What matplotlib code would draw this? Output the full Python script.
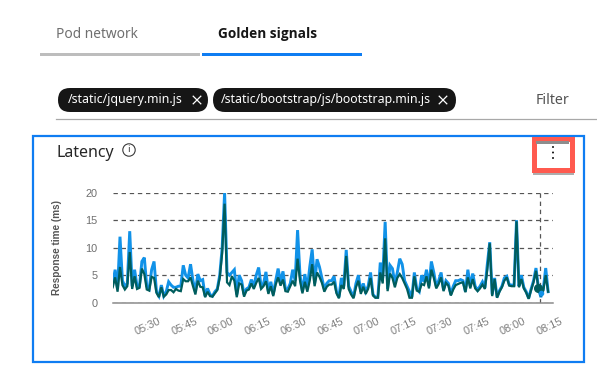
#!/usr/bin/env python3
"""
Latency panel: golden signals tab with two response time series
"""

import matplotlib
matplotlib.use("Agg")
import matplotlib.pyplot as plt
from matplotlib.patches import Circle, FancyBboxPatch, Rectangle
from matplotlib.transforms import ScaledTranslation

# Data, one value per minute from 05:14
light_series = [
    3.5, 6, 2.5, 12, 4, 3, 3.5, 13, 3, 6, 3, 3, 7.5, 8.2, 3, 2.5, 6, 7.5, 2, 1.2,
    3.2, 1.2, 2, 3.8, 3.2, 2.8, 2.8, 3, 3, 6.8, 5, 4.5, 7, 4, 2, 5.2, 4, 4.2, 1.2, 2.6,
    1.5, 1.2, 2, 2.5, 5, 10, 20, 5.5, 5, 5.5, 6, 1.5, 5, 4, 1.5, 2.5, 2.8, 4.2, 3, 5,
    6.4, 3, 3.5, 5.6, 2, 3.8, 1.5, 4, 6.2, 3.8, 5.7, 2.5, 2.5, 3.5, 6, 4, 13.2, 5, 2, 5.2,
    2.5, 6.5, 9.7, 3.5, 7.9, 6.5, 4.5, 2.5, 3.5, 4, 4, 4.8, 2, 1, 4.5, 3, 9.6, 3, 2, 1,
    3.5, 5, 2, 3.5, 2, 3, 5.5, 1.5, 1, 1, 7.3, 4.5, 14.7, 2.5, 6.8, 6.2, 3.5, 5.5, 8, 7,
    4, 3, 2, 1, 5.5, 2.5, 2, 5, 3.8, 6, 3, 7.5, 5.5, 3, 4, 5.5, 2.3, 4, 3.5, 1.5,
    3, 4, 4, 4.2, 4, 2, 6, 3, 5.3, 3, 2.3, 3, 3.8, 2.7, 7, 11, 1.5, 4.5, 1, 2.2,
    3, 4.5, 4.8, 3.3, 3.2, 3.2, 15, 3, 5, 2.8, 2, 0.8, 2.5, 4, 6.3, 2.8, 1, 2.5, 6.3, 2,
]
dark_series = [
    2.8, 4.6, 2, 6.5, 3.2, 2.4, 3, 9.2, 2.5, 4.8, 2.5, 2.7, 6.2, 5.2, 2.4, 2.2, 4.7, 4.5, 1.8, 1,
    2.8, 1.1, 1.5, 2.3, 2.3, 1.9, 2.5, 2.2, 2.1, 4.3, 3.9, 3.9, 4.6, 3, 1.5, 4, 2.9, 2.8, 1, 2,
    1.2, 1.1, 1.7, 2.3, 4.5, 9, 18, 3.7, 3.2, 4.8, 4, 1, 3.5, 3.3, 1.1, 2.2, 2.4, 3.5, 2.5, 3.6,
    4.5, 2.5, 3, 3.9, 1.6, 3, 1.2, 3.3, 4.6, 3.1, 4.2, 2.1, 2, 3, 4, 3, 8, 4, 1.7, 3.8,
    2, 4, 7, 3, 5.5, 4.7, 3.6, 2, 2.9, 3.3, 3.3, 3.8, 1.7, 0.8, 3.2, 2.5, 8.5, 2.5, 1.5, 0.8,
    2.8, 4, 1.6, 2.9, 1.6, 2.5, 4.5, 1.3, 0.9, 0.9, 5.5, 3.5, 11.7, 2.1, 5.3, 4.5, 2.8, 4.5, 5.2, 4.5,
    3.5, 2.5, 0.9, 0.9, 4.8, 2.2, 2, 3.4, 3.2, 4.8, 2.6, 6, 4.5, 2.6, 3.4, 4.6, 2.1, 3.6, 3.1, 1.3,
    2.4, 3.2, 3.4, 3.6, 3.7, 1.9, 4.6, 2.6, 4.3, 2.6, 2.1, 2.6, 3.3, 2.5, 6, 10.8, 1.2, 4.3, 0.9, 2,
    2.8, 4, 4.6, 3.1, 3, 3, 14.8, 2.8, 4.3, 2.6, 1.8, 0.7, 2.3, 3.7, 5.8, 2.6, 1.2, 2.2, 5, 2,
]
minutes = list(range(len(light_series)))

time_ticks = [16, 31, 46, 61, 76, 91, 106, 121, 136, 151, 166, 181]
time_labels = ["05:30", "05:45", "06:00", "06:15", "06:30", "06:45",
               "07:00", "07:15", "07:30", "07:45", "08:00", "08:15"]
y_ticks = [0, 5, 10, 15, 20]
hover_minute = 175

# Config
W, H = 597, 373
BLUE = "#0f7df2"
LIGHT = "#1192e8"
DARK = "#005d5d"
UI_FONT = ["Noto Sans", "DejaVu Sans"]
BOLD_FONT = ["Open Sans", "DejaVu Sans"]
CHART_FONT = ["Liberation Sans", "DejaVu Sans"]


def draw_chip(ui, x0, x1, label, text_x, close_x):
    ui.add_patch(FancyBboxPatch((x0, 88), x1 - x0, 24, boxstyle="round,pad=0,rounding_size=12",
                                fc="#161616", ec="none"))
    ui.text(text_x, 100, label, color="white", fontsize=8.85, family=UI_FONT,
            va="center", ha="left")
    s = 3.8
    ui.plot([close_x - s, close_x + s], [100 - s, 100 + s], color="white", lw=0.9)
    ui.plot([close_x - s, close_x + s], [100 + s, 100 - s], color="white", lw=0.9)


def draw_page(ui):
    ui.text(56, 34, "Pod network", color="#6f6f6f", fontsize=9.9, family=UI_FONT, va="center")
    ui.text(218, 34, "Golden signals", color="#161616", fontsize=9.8, family=BOLD_FONT,
            fontweight="bold", va="center")
    ui.add_patch(Rectangle((40, 53), 160, 3, fc="#bdbdbd", ec="none"))
    ui.add_patch(Rectangle((202, 53), 160, 3, fc=BLUE, ec="none"))

    draw_chip(ui, 58, 208, "/static/jquery.min.js", 68, 197)
    draw_chip(ui, 213, 456, "/static/bootstrap/js/bootstrap.min.js", 221, 443)
    ui.text(536, 100.5, "Filter", color="#525252", fontsize=10.2, family=UI_FONT, va="center")
    ui.plot([56, 597], [119, 119], color="#a8a8a8", lw=0.9)

    # card outline
    ui.add_patch(Rectangle((33, 136), 551, 226, fc="none", ec=BLUE, lw=1.6))
    ui.text(57, 153, "Latency", color="#262626", fontsize=11.5, family=UI_FONT, va="center")
    ui.add_patch(Circle((129, 150), 6.2, fc="none", ec="#393939", lw=0.8))
    ui.text(129, 150, "i", color="#393939", fontsize=7, family=UI_FONT, ha="center", va="center")

    # highlighted menu button
    ui.add_patch(Rectangle((533, 141), 41, 34, fc="#8a8a8a", ec="none", alpha=0.7))
    ui.add_patch(Rectangle((533.5, 138.5), 38, 31, fc="white", ec="#ff5a4f", lw=3.6))
    ui.add_patch(Rectangle((536, 141), 33, 2.5, fc="#8d8d8d", ec="none"))
    for y in (147, 152.5, 158):
        ui.add_patch(Circle((553, y), 1.0, fc="#161616", ec="none"))


def draw_chart(ax):
    ax.plot(minutes, light_series, color=LIGHT, lw=2.1, solid_joinstyle="miter", zorder=3)
    ax.plot(minutes, dark_series, color=DARK, lw=1.6, solid_joinstyle="miter", zorder=4)
    ax.plot([hover_minute], [dark_series[hover_minute]], "o", color=DARK, ms=5.5, zorder=5)
    ax.plot([hover_minute + 1], [dark_series[hover_minute + 1] + 0.6], "o", color=LIGHT, ms=3, zorder=5)
    ax.axvline(hover_minute + 0.5, color="#555555", lw=0.9, ls=(0, (3.5, 3)), zorder=2)

    ax.set_xlim(0, 180.5)
    ax.set_ylim(0, 20)
    ax.set_yticks(y_ticks)
    ax.set_xticks(time_ticks)
    ax.set_xticklabels(time_labels, rotation=25, ha="right", rotation_mode="anchor",
                       fontsize=7.9, color="#7d7d7d", family=CHART_FONT)
    ax.set_yticklabels([str(v) for v in y_ticks], fontsize=7.9, color="#6f6f6f", family=CHART_FONT)
    ax.tick_params(axis="both", length=0)
    ax.tick_params(axis="x", pad=10)
    ax.tick_params(axis="y", pad=11)
    ax.set_ylabel("Response time (ms)", fontsize=7.2, fontweight="bold", color="#555555",
                  family=CHART_FONT, labelpad=17)
    ax.grid(axis="y", color="#555555", lw=0.9, ls=(0, (3.5, 3)), zorder=1)
    ax.set_axisbelow(True)
    for side in ("top", "right", "left"):
        ax.spines[side].set_visible(False)
    ax.spines["bottom"].set_color("#8c8c8c")
    ax.spines["bottom"].set_linewidth(1.1)

    # labels sit a little to the right of their tick
    nudge = ScaledTranslation(7 / 100, 0, ax.figure.dpi_scale_trans)
    for label in ax.get_xticklabels():
        label.set_transform(label.get_transform() + nudge)


def main():
    fig = plt.figure(figsize=(W / 100, H / 100), dpi=100)
    ui = fig.add_axes([0, 0, 1, 1])
    ui.set_xlim(0, W)
    ui.set_ylim(H, 0)
    ui.axis("off")
    draw_page(ui)

    left, right, top, bottom = 112.7, 553, 192.7, 302.7
    ax = fig.add_axes([left / W, 1 - bottom / H, (right - left) / W, (bottom - top) / H])
    ax.patch.set_alpha(0)
    draw_chart(ax)

    fig.savefig("out.png", dpi=100)
    plt.close(fig)


if __name__ == "__main__":
    main()
